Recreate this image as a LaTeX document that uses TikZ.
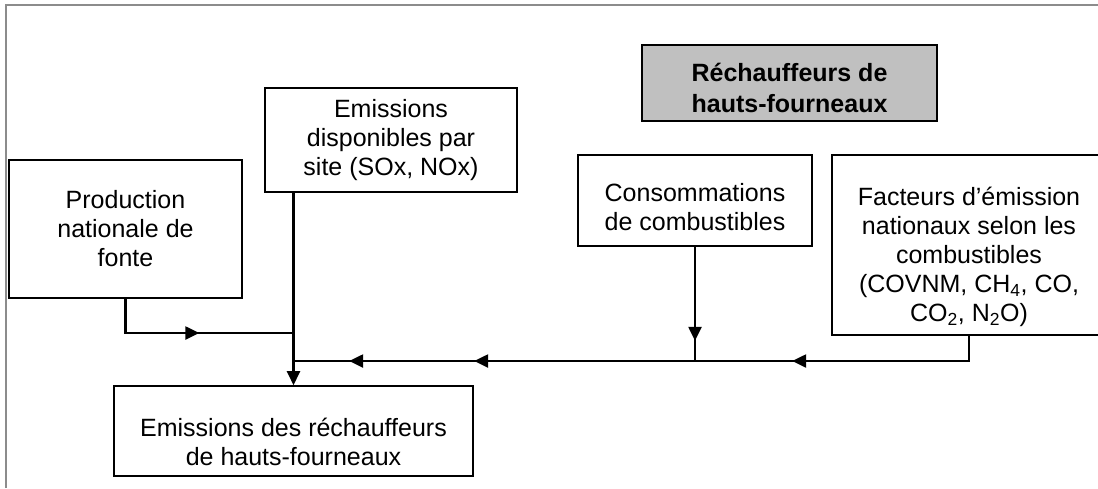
\documentclass[tikz,border=0pt]{standalone}
\usepackage{fontspec}
\setmainfont{Liberation Sans}
\usetikzlibrary{arrows.meta,decorations.markings,calc}
\definecolor{framegray}{HTML}{8C8C8C}
\definecolor{titlegray}{HTML}{C0C0C0}
\begin{document}
\begin{tikzpicture}[x=1pt,y=-1pt,
  box/.style={draw=black,line width=1.6pt,fill=white,align=center,inner sep=0pt,
              font=\fontsize{25}{29}\selectfont},
  flow/.style={line width=2.4pt},
  tip/.style={-{Triangle[length=14pt,width=13pt]}}
]
\useasboundingbox (0,0) rectangle (1098,488);

% outer frame (top and left sides only)
\draw[framegray,line width=2.5pt] (6,488) -- (6,5) -- (1098,5);

% boxes
\node[box,minimum width=295pt,minimum height=76pt,fill=titlegray,
      font=\fontsize{25}{31}\selectfont\bfseries] (title) at (789.5,83)
      {\rule{0pt}{28pt}Réchauffeurs de\\hauts-fourneaux};
\node[box,minimum width=252pt,minimum height=104pt] (disp) at (391,140)
      {Emissions\\disponibles par\\site (SOx, NOx)};
\node[box,minimum width=233pt,minimum height=138pt] (prod) at (125.5,229)
      {Production\\nationale de\\fonte};
\node[box,minimum width=234pt,minimum height=91pt] (cons) at (695,200.5)
      {\rule{0pt}{32pt}Consommations\\de combustibles};
\node[box,minimum width=274pt,minimum height=180pt] (fact) at (969,245)
      {\rule{0pt}{42pt}Facteurs d’émission\\nationaux selon les\\combustibles\\(COVNM, CH\textsubscript{4}, CO,\\CO\textsubscript{2}, N\textsubscript{2}O)};
\node[box,minimum width=359pt,minimum height=90pt] (bot) at (293.5,431)
      {\rule{0pt}{40pt}Emissions des réchauffeurs\\de hauts-fourneaux};

% junctions on the collecting line
\coordinate (j1) at (293.5,333);
\coordinate (j2) at (293.5,361);

% connectors
\draw[flow,postaction={decorate},decoration={markings,
      mark=at position 108pt with {\arrow{Triangle[length=14pt,width=13pt]}}}]
      (prod.south) |- (j1);
\draw[flow,tip] (disp.south -| bot.north) -- (bot.north);
\draw[flow,postaction={decorate},decoration={markings,
      mark=at position 94pt with {\arrow{Triangle[length=14pt,width=13pt]}}}]
      (cons.south) -- (cons.south |- j2);
\draw[flow,postaction={decorate},decoration={markings,
      mark=at position 202pt with {\arrow{Triangle[length=14pt,width=13pt]}},
      mark=at position 520pt with {\arrow{Triangle[length=14pt,width=13pt]}},
      mark=at position 645pt with {\arrow{Triangle[length=14pt,width=13pt]}}}]
      (fact.south) |- (j2);
\end{tikzpicture}
\end{document}
